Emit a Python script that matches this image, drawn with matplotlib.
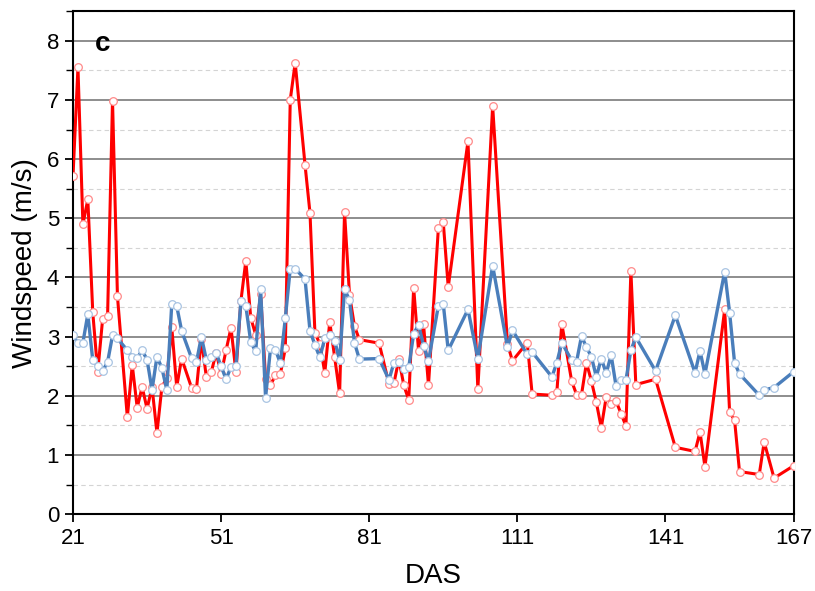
import numpy as np
import matplotlib
matplotlib.use('Agg')
from matplotlib import pyplot as plt
from matplotlib import font_manager
from matplotlib.ticker import MultipleLocator

# narrow sans if the system has it, else plain Liberation Sans
names = {f.name for f in font_manager.fontManager.ttflist}
fam = 'Liberation Sans Narrow' if 'Liberation Sans Narrow' in names else 'Liberation Sans'
plt.rcParams['font.family'] = [fam, 'DejaVu Sans']

das = [21, 22, 23, 24, 25, 26, 27, 28, 29, 30,
       32, 33, 34, 35, 36, 37, 38, 39, 40, 41, 42, 43,
       45, 46, 47, 48, 49, 50, 51, 52, 53, 54, 55, 56, 57, 58, 59, 60, 61, 62, 63, 64, 65, 66,
       68, 69, 70, 71, 72, 73, 74, 75, 76, 77, 78, 79,
       83,
       85, 86, 87, 88, 89, 90, 91, 92, 93,
       95, 96, 97,
       101, 103, 106,
       109, 110, 113, 114,
       118, 119, 120,
       122, 123, 124, 125, 126, 127, 128, 129, 130, 131, 132, 133, 134, 135,
       139, 143,
       147, 148, 149,
       153, 154, 155, 156,
       160, 161, 163, 167]

wind_red = [5.72, 7.55, 4.90, 5.32, 3.41, 2.40, 3.30, 3.35, 6.99, 3.68,
            1.64, 2.52, 1.80, 2.15, 1.78, 2.15, 1.37, 2.15, 2.30, 3.16, 2.15, 2.63,
            2.14, 2.11, 2.96, 2.32, 2.40, 2.73, 2.37, 2.77, 3.15, 2.40, 3.60, 4.28, 3.32, 3.03, 3.72,
            2.29, 2.18, 2.35, 2.37, 2.80, 7.00, 7.63,
            5.90, 5.09, 3.06, 2.88, 2.39, 3.25, 2.65, 2.04, 5.10, 3.71, 3.18, 2.95,
            2.89,
            2.20, 2.21, 2.62, 2.18, 1.93, 3.83, 2.75, 3.21, 2.18,
            4.83, 4.93, 3.84,
            6.30, 2.11, 6.90,
            2.88, 2.59, 2.90, 2.03,
            2.01, 2.06, 3.22,
            2.25, 2.02, 2.02, 2.56, 2.25, 1.89, 1.46, 1.98, 1.87, 1.91, 1.70, 1.49, 4.11, 2.19,
            2.28, 1.13,
            1.06, 1.39, 0.80,
            3.46, 1.72, 1.59, 0.72,
            0.67, 1.22, 0.61, 0.82]

wind_blue = [3.02, 2.90, 2.90, 3.38, 2.60, 2.50, 2.42, 2.57, 3.02, 2.97,
             2.77, 2.66, 2.64, 2.77, 2.61, 2.10, 2.66, 2.47, 2.10, 3.55, 3.52, 3.10,
             2.64, 2.57, 3.00, 2.61, 2.66, 2.72, 2.50, 2.28, 2.49, 2.51, 3.60, 3.52, 2.91, 2.75, 3.80,
             1.97, 2.80, 2.78, 2.55, 3.31, 4.15, 4.15,
             3.97, 3.10, 2.86, 2.65, 2.97, 3.03, 2.93, 2.60, 3.80, 3.62, 2.90, 2.62,
             2.63,
             2.27, 2.56, 2.57, 2.46, 2.48, 3.05, 3.20, 2.85, 2.59,
             3.52, 3.55, 2.77,
             3.46, 2.63, 4.20,
             2.82, 3.11, 2.70, 2.74,
             2.32, 2.56, 2.90,
             2.60, 2.58, 3.01, 2.82, 2.66, 2.32, 2.63, 2.38, 2.69, 2.16, 2.27, 2.27, 2.77, 2.99,
             2.42, 3.36,
             2.39, 2.76, 2.37,
             4.10, 3.40, 2.56, 2.37,
             2.01, 2.10, 2.14, 2.41]

xticks = [21, 51, 81, 111, 141, 167]

fig = plt.figure(figsize=(8.15, 5.91), dpi=100)
ax = fig.add_axes([0.0896, 0.130, 0.8844, 0.851])

ax.plot(das, wind_red, color='#ff0000', lw=2.2,
        marker='o', ms=5.5, mfc='white', mec='#ff8a8a', mew=0.9, zorder=3)
ax.plot(das, wind_blue, color='#4a7ebb', lw=2.4,
        marker='o', ms=5.5, mfc='white', mec='#a9c4e2', mew=0.9, zorder=4)

ax.set_xlim(21, 167)
ax.set_ylim(0, 8.5)
ax.set_xticks(xticks)
ax.yaxis.set_major_locator(MultipleLocator(1))
ax.yaxis.set_minor_locator(MultipleLocator(0.5))

# grid: solid major, dashed minor
ax.grid(axis='y', which='major', color='#858585', lw=1.3, ls='-')
ax.grid(axis='y', which='minor', color='#d4d4d4', lw=0.8, ls=(0, (4, 3)))
ax.set_axisbelow(True)

for s in ax.spines.values():
    s.set_linewidth(1.5)
    s.set_color('black')

ax.tick_params(axis='both', which='major', direction='out', length=6, width=1.3,
               labelsize=16, pad=4)
ax.tick_params(axis='y', which='minor', direction='out', length=5, width=1.0)

ax.set_xlabel('DAS', fontsize=20, labelpad=10)
ax.set_ylabel('Windspeed (m/s)', fontsize=20, labelpad=6)

ax.text(0.03, 0.935, 'c', transform=ax.transAxes, fontsize=20,
        fontweight='bold', va='center', ha='left')

fig.savefig('out.png', dpi=100)
